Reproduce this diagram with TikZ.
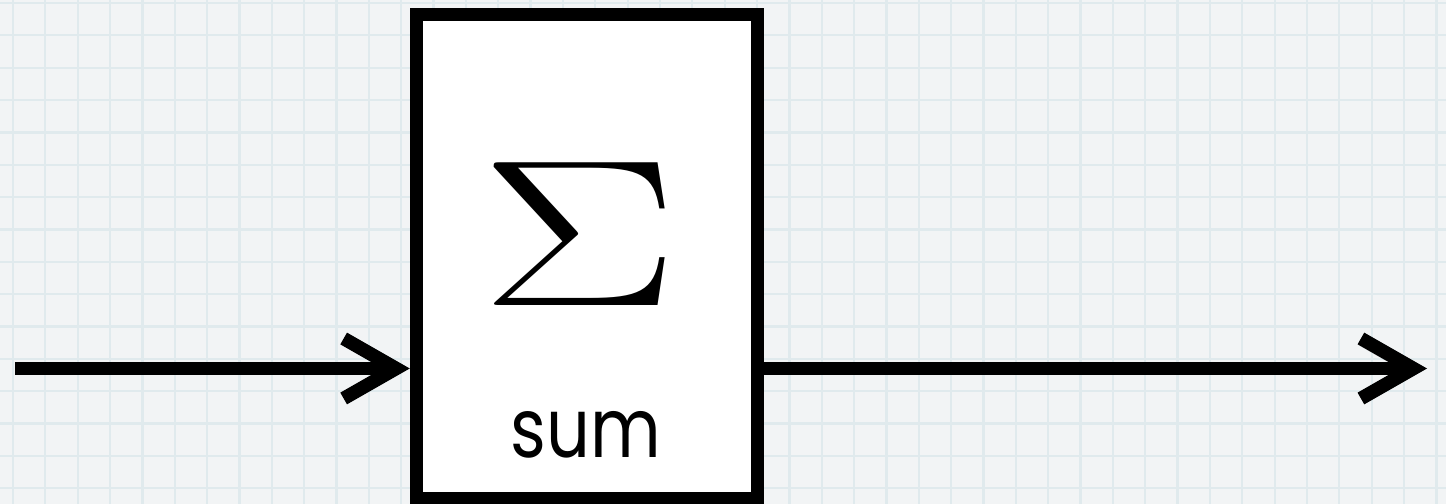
\documentclass[tikz,border=0pt]{standalone}
\usepackage{fontspec}
\newfontfamily\labelfont{Poppins}
\usetikzlibrary{arrows.meta}
\definecolor{paper}{HTML}{F2F4F5}
\definecolor{gridline}{HTML}{E0EAED}
\tikzset{sumbox/.style={draw, fill=white, line width=0.27cm, minimum width=6.82cm, minimum height=9.69cm, inner sep=0pt}}
\tikzset{flow/.style={line width=0.27cm, -{Straight Barb[length=1.05cm,width=1.2cm]}}}

\begin{document}
\begin{tikzpicture}[scale=1.0, every node/.style={inner sep=0pt}]
		\useasboundingbox (0,0) rectangle (28.92,10.08);
		\clip (0,0) rectangle (28.92,10.08);
		% Paper
		\fill[paper] (0,0) rectangle (28.92,10.08);
		\foreach \x in {0,...,44}{
			\draw[gridline, line width=0.045cm] ({0.26+0.647*\x},0) -- ++(0,10.08);
		}
		\foreach \y in {0,...,15}{
			\draw[gridline, line width=0.045cm] (0,{10.02-0.647*\y}) -- ++(28.92,0);
		}

		% Block
		\node[sumbox] (sum) at (11.74,4.945) {};
		\node[xscale=6.8, yscale=4.78, font=\Huge] (sigma) at (11.6,5.4) {$\Sigma$};
		\node[anchor=base, xscale=0.83, font=\labelfont\fontsize{47}{47}\selectfont] (label) at (11.72,0.92) {sum};

		% Signals
		\coordinate (in) at (0.3,2.71);
		\coordinate (out) at (28.54,2.71);
		\draw[flow] (in) -- (in -| sum.west);
		\draw[flow] (sum.east |- out) -- (out);
	\end{tikzpicture}
\end{document}
